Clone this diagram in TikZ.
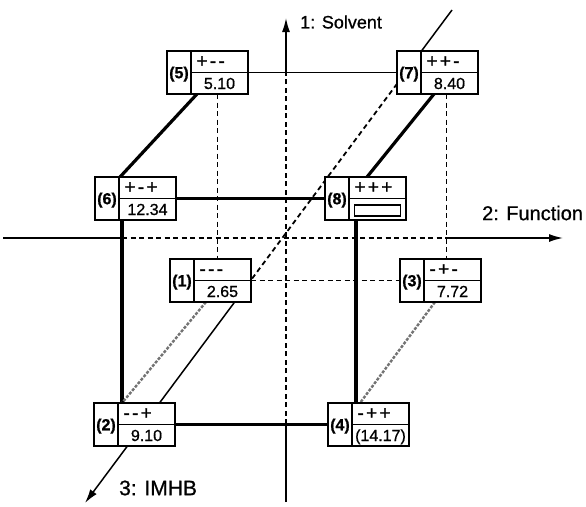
\documentclass[tikz,border=0pt]{standalone}
\usepackage{fontspec}
\setmainfont[FakeBold=0.8]{Liberation Sans}
\newfontfamily\signfont[LetterSpace=12,Ligatures=TeXOff,FakeBold=1.2]{Liberation Sans}
\usetikzlibrary{arrows.meta,backgrounds}
\tikzset{
  boxline/.style={draw=black,line width=1.6pt,fill=white,inner sep=0pt,outer sep=0pt},
  labcell/.style={boxline,minimum width=24pt,minimum height=43pt,text height=11.5pt,text depth=0pt,
    font=\fontsize{16}{16}\selectfont\bfseries,anchor=north east},
  sigcell/.style={boxline,minimum height=21.5pt,text width=46pt,inner xsep=5.5pt,align=left,
    text height=11pt,text depth=0pt,font=\signfont\fontsize{19}{19}\selectfont,anchor=north west},
  valcell/.style={boxline,minimum height=21.5pt,minimum width=57pt,text height=11.5pt,text depth=0pt,
    font=\fontsize{16}{16}\selectfont,anchor=north west},
  pics/cellbox/.style n args={3}{code={
     \node[labcell] (-lab) at (0,0) {#1};
     \node[sigcell] (-top) at (0,0) {#2};
     \node[valcell] (-bot) at (0,21.5) {#3};
  }},
  thickedge/.style={line width=3.2pt},
  thinedge/.style={line width=1.5pt},
  dashedge/.style={line width=1.8pt,dash pattern=on 5pt off 3.5pt},
  grayedge/.style={line width=2.4pt,black!55,dash pattern=on 3pt off 1.5pt},
  axisline/.style={line width=1.5pt},
  axisdash/.style={line width=1.8pt,dash pattern=on 5pt off 3.5pt},
  axistip/.style={-{Latex[length=14pt,width=8pt]}},
  axislabel/.style={anchor=west,inner sep=0pt},
}
\begin{document}
\begin{tikzpicture}[x=1pt,y=-1pt]
\useasboundingbox (0,0) rectangle (586,506);
% boxes (origin = divider x, top y)
\pic (b5) at (191,51) {cellbox={(5)}{+--}{5.10}};
\pic (b7) at (421,51) {cellbox={(7)}{++-}{8.40}};
\pic (b6) at (119,177) {cellbox={(6)}{+-+}{12.34}};
\pic (b8) at (349,177) {cellbox={(8)}{+++}{}};
\pic (b1) at (194,259) {cellbox={(1)}{---}{2.65}};
\pic (b3) at (424,259) {cellbox={(3)}{-+-}{7.72}};
\pic (b2) at (118,403) {cellbox={(2)}{--+}{9.10}};
\pic (b4) at (352,403) {cellbox={(4)}{-++}{(14.17)}};
\node[draw,line width=1.5pt,minimum width=46pt,minimum height=11pt,inner sep=0pt] (b8-inner)
  at ([yshift=-1pt]b8-bot.center) {};
% axis labels
\node[axislabel,font=\fontsize{18}{18}\selectfont] (lab1) at (300,22) {1: Solvent};
\node[axislabel,font=\fontsize{20}{20}\selectfont] (lab2) at (482,213) {2: Function};
\node[axislabel,font=\fontsize{21}{21}\selectfont] (lab3) at (119,488) {3: IMHB};
% axis coordinates
\coordinate (a1bot) at (286,502);
\coordinate (a1lo) at (286,424);
\coordinate (a1hi) at (286,73);
\coordinate (a1top) at (286,18);
\coordinate (a2left) at (3,238);
\coordinate (a2l) at (122,238);
\coordinate (a2r) at (446,238);
\coordinate (a2right) at (563,238);
\coordinate (a3top) at (452,10);
\coordinate (a3hi) at (407.3,70);
\coordinate (a3lo) at (245.1,288);
\coordinate (a3bot) at (85,503);
\begin{pgfonlayer}{background}
  % axes
  \draw[axisline] (a1bot) -- (a1lo);
  \draw[axisdash] (a1lo) -- (a1hi);
  \draw[axisline,axistip] (a1hi) -- (a1top);
  \draw[axisline] (a2left) -- (a2l);
  \draw[axisdash] (a2l) -- (a2r);
  \draw[axisline,axistip] (a2r) -- (a2right);
  \draw[axisline] (a3top) -- (a3hi);
  \draw[axisdash] (a3hi) -- (a3lo);
  \draw[axisline,axistip] (a3lo) -- (a3bot);
  % horizontal edges
  \draw[thinedge] (b5-bot.north east) -- (b7-lab.west);
  \draw[thickedge] (b6-bot.north east) -- (b8-lab.west);
  \draw[thickedge] (b2-bot.north east) -- (b4-lab.west);
  \draw[dashedge] (b1-bot.north east) -- (b3-lab.west);
  % vertical edges
  \draw[thickedge] ([xshift=3pt]b6-bot.south west) -- ([xshift=3pt]b6-bot.south west |- b2-top.north);
  \draw[thickedge] ([xshift=7pt]b8-bot.south west) -- ([xshift=7pt]b8-bot.south west |- b4-top.north);
  \draw[dashedge] ([xshift=-2pt]b5-bot.south) -- ([xshift=-2pt]b5-bot.south |- b1-top.north);
  \draw[dashedge] ([xshift=-3pt]b7-bot.south) -- ([xshift=-3pt]b7-bot.south |- b3-top.north);
  % depth edges
  \draw[thickedge] ([xshift=6pt]b5-bot.south west) -- ([xshift=1pt]b6-top.north west);
  \draw[thickedge] ([xshift=13pt]b7-bot.south west) -- ([xshift=18pt]b8-top.north west);
  \draw[grayedge] ([xshift=12pt]b1-bot.south west) -- ([xshift=4pt]b2-top.north west);
  \draw[grayedge] ([xshift=11pt]b3-bot.south west) -- ([xshift=8pt]b4-top.north west);
\end{pgfonlayer}
\end{tikzpicture}
\end{document}
